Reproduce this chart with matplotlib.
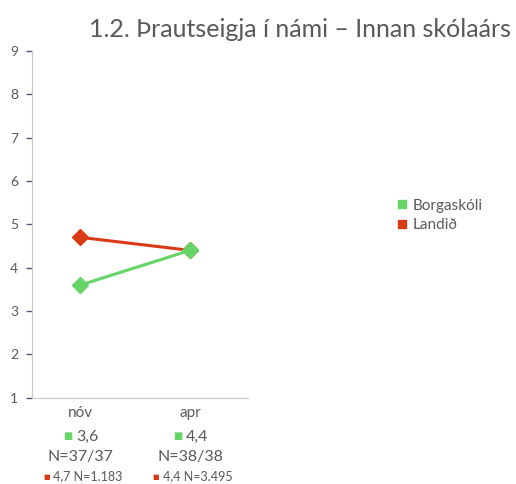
import matplotlib
matplotlib.use("Agg")
import matplotlib.pyplot as plt
from matplotlib.lines import Line2D
from matplotlib.transforms import blended_transform_factory

categories = ["nóv", "apr"]
borgaskoli = [3.6, 4.4]
landid = [4.7, 4.4]
school_labels = ["3,6", "4,4"]
school_n = ["N=37/37", "N=38/38"]
national_labels = ["4,7 N=1.183", "4,4 N=3.495"]
series_names = ["Borgaskóli", "Landið"]
title = "1.2. Þrautseigja í námi – Innan skólaárs"

green = "#66d466"
red = "#d93a16"
gray = "#595959"

plt.rcParams['font.family'] = ['Lato', 'DejaVu Sans']

fig = plt.figure(figsize=(5.16, 4.84), dpi=100)
ax = fig.add_axes([0.062, 0.178, 0.419, 0.717])

x = list(range(len(categories)))
ax.plot(x, landid, color=red, lw=2.2, marker="D", ms=8, zorder=3)
ax.plot(x, borgaskoli, color=green, lw=2.2, marker="D", ms=8, zorder=4)

ax.set_xlim(-0.44, 1.53)
ax.set_ylim(1, 9)
ax.set_yticks(range(1, 10))
ax.set_xticks([])
for s in ["top", "right"]:
    ax.spines[s].set_visible(False)
ax.spines["left"].set_color("#c8c8c8")
ax.spines["bottom"].set_color("#c8c8c8")
ax.tick_params(axis="y", length=4, width=1, color="#555577", labelsize=10, labelcolor=gray, pad=6)

tr = blended_transform_factory(ax.transData, ax.transAxes)
for i, c in enumerate(categories):
    ax.text(i, -0.045, c, transform=tr, ha="center", va="center", fontsize=11, color=gray)
    ax.text(i - 0.07, -0.112, "■", transform=tr, ha="right", va="center", fontsize=7, color=green)
    ax.text(i - 0.04, -0.112, school_labels[i], transform=tr, ha="left", va="center", fontsize=11.5, color=gray)
    ax.text(i, -0.17, school_n[i], transform=tr, ha="center", va="center", fontsize=11.5, color=gray)
    ax.text(i - 0.28, -0.227, "■", transform=tr, ha="right", va="center", fontsize=5, color=red)
    ax.text(i - 0.25, -0.227, national_labels[i], transform=tr, ha="left", va="center", fontsize=9, color=gray)

fig.text(0.99, 0.94, title, ha="right", va="center", fontsize=18, color=gray)

handles = [Line2D([], [], ls="none", marker="s", ms=6, color=green),
           Line2D([], [], ls="none", marker="s", ms=6, color=red)]
leg = fig.legend(handles, series_names, loc="center left", bbox_to_anchor=(0.755, 0.555),
                 frameon=False, fontsize=11, handlelength=0.6, handletextpad=0.4,
                 labelspacing=0.35, borderpad=0)
for t in leg.get_texts():
    t.set_color(gray)

fig.savefig("out.png", dpi=100)
